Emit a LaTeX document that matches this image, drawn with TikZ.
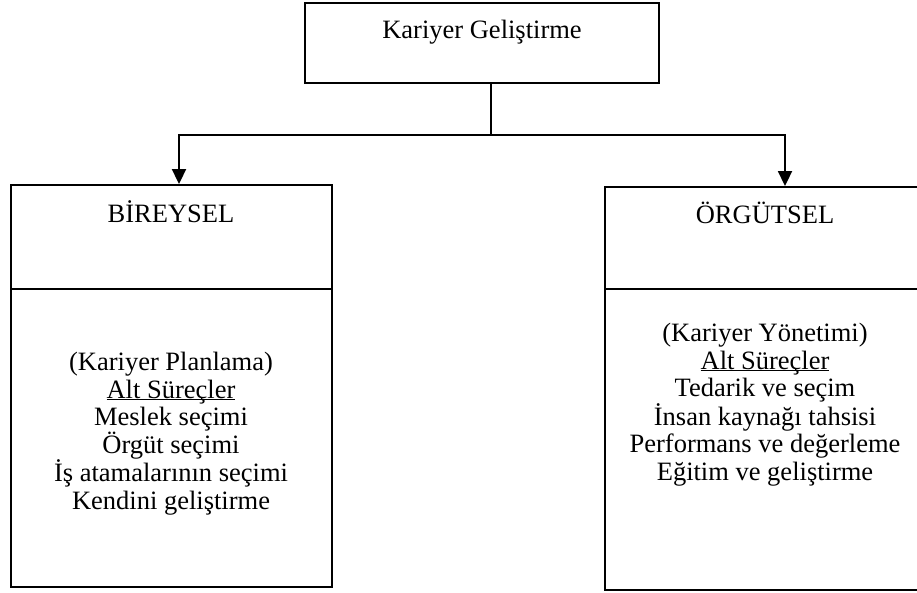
\documentclass[tikz,border=0pt]{standalone}
\usepackage{fontspec}
\setmainfont{Liberation Serif}
\usetikzlibrary{arrows.meta,positioning}
% underline that sits just below the baseline, ignoring descenders
\newcommand\baseul[1]{\underline{\smash{#1}}}
\begin{document}
\begin{tikzpicture}[x=1pt,y=-1pt,
  every node/.style={font=\fontsize{26.5}{27.5}\selectfont},
  frame/.style={draw,line width=1.9pt,rectangle,inner sep=0pt},
  label/.style={align=center,inner sep=0pt},
  link/.style={line width=1.9pt},
  arrowlink/.style={link,-{Triangle[length=15pt,width=14pt]}}]
\useasboundingbox (0,0) rectangle (917,592);
\begin{scope}
\clip (0,0) rectangle (917,592);
% top box
\node[frame,minimum width=354pt,minimum height=80pt] (top) at (482,43) {};
\node[label] (toptxt) at (482,32) {Kariyer Geliştirme};
% left column: heading part and body part
\node[frame,minimum width=321pt,minimum height=104pt] (bir) at (171.5,237) {};
\node[frame,minimum width=321pt,minimum height=298pt] (birbody) at (171.5,438) {};
\node[label] (birtxt) at (171,212) {BİREYSEL};
\node[label] (birlist) at (171,433.5) {(Kariyer Planlama)\\\baseul{Alt Süreçler}\\Meslek seçimi\\Örgüt seçimi\\İş atamalarının seçimi\\Kendini geliştirme};
% right column: heading part and body part
\node[frame,minimum width=320pt,minimum height=102pt] (org) at (765,238) {};
\node[frame,minimum width=320pt,minimum height=301pt] (orgbody) at (765,439.5) {};
\node[label] (orgtxt) at (765,213) {ÖRGÜTSEL};
\node[label] (orglist) at (765,404.5) {(Kariyer Yönetimi)\\\baseul{Alt Süreçler}\\Tedarik ve seçim\\İnsan kaynağı tahsisi\\Performans ve değerleme\\Eğitim ve geliştirme};
\end{scope}
% connectors
\coordinate (j) at (491,135);
\draw[link] (top.south -| j) -- (j);
\draw[arrowlink] (j) -| ([xshift=7.5pt]bir.north);
\draw[arrowlink] (j) -| ([xshift=20pt]org.north);
\end{tikzpicture}
\end{document}
